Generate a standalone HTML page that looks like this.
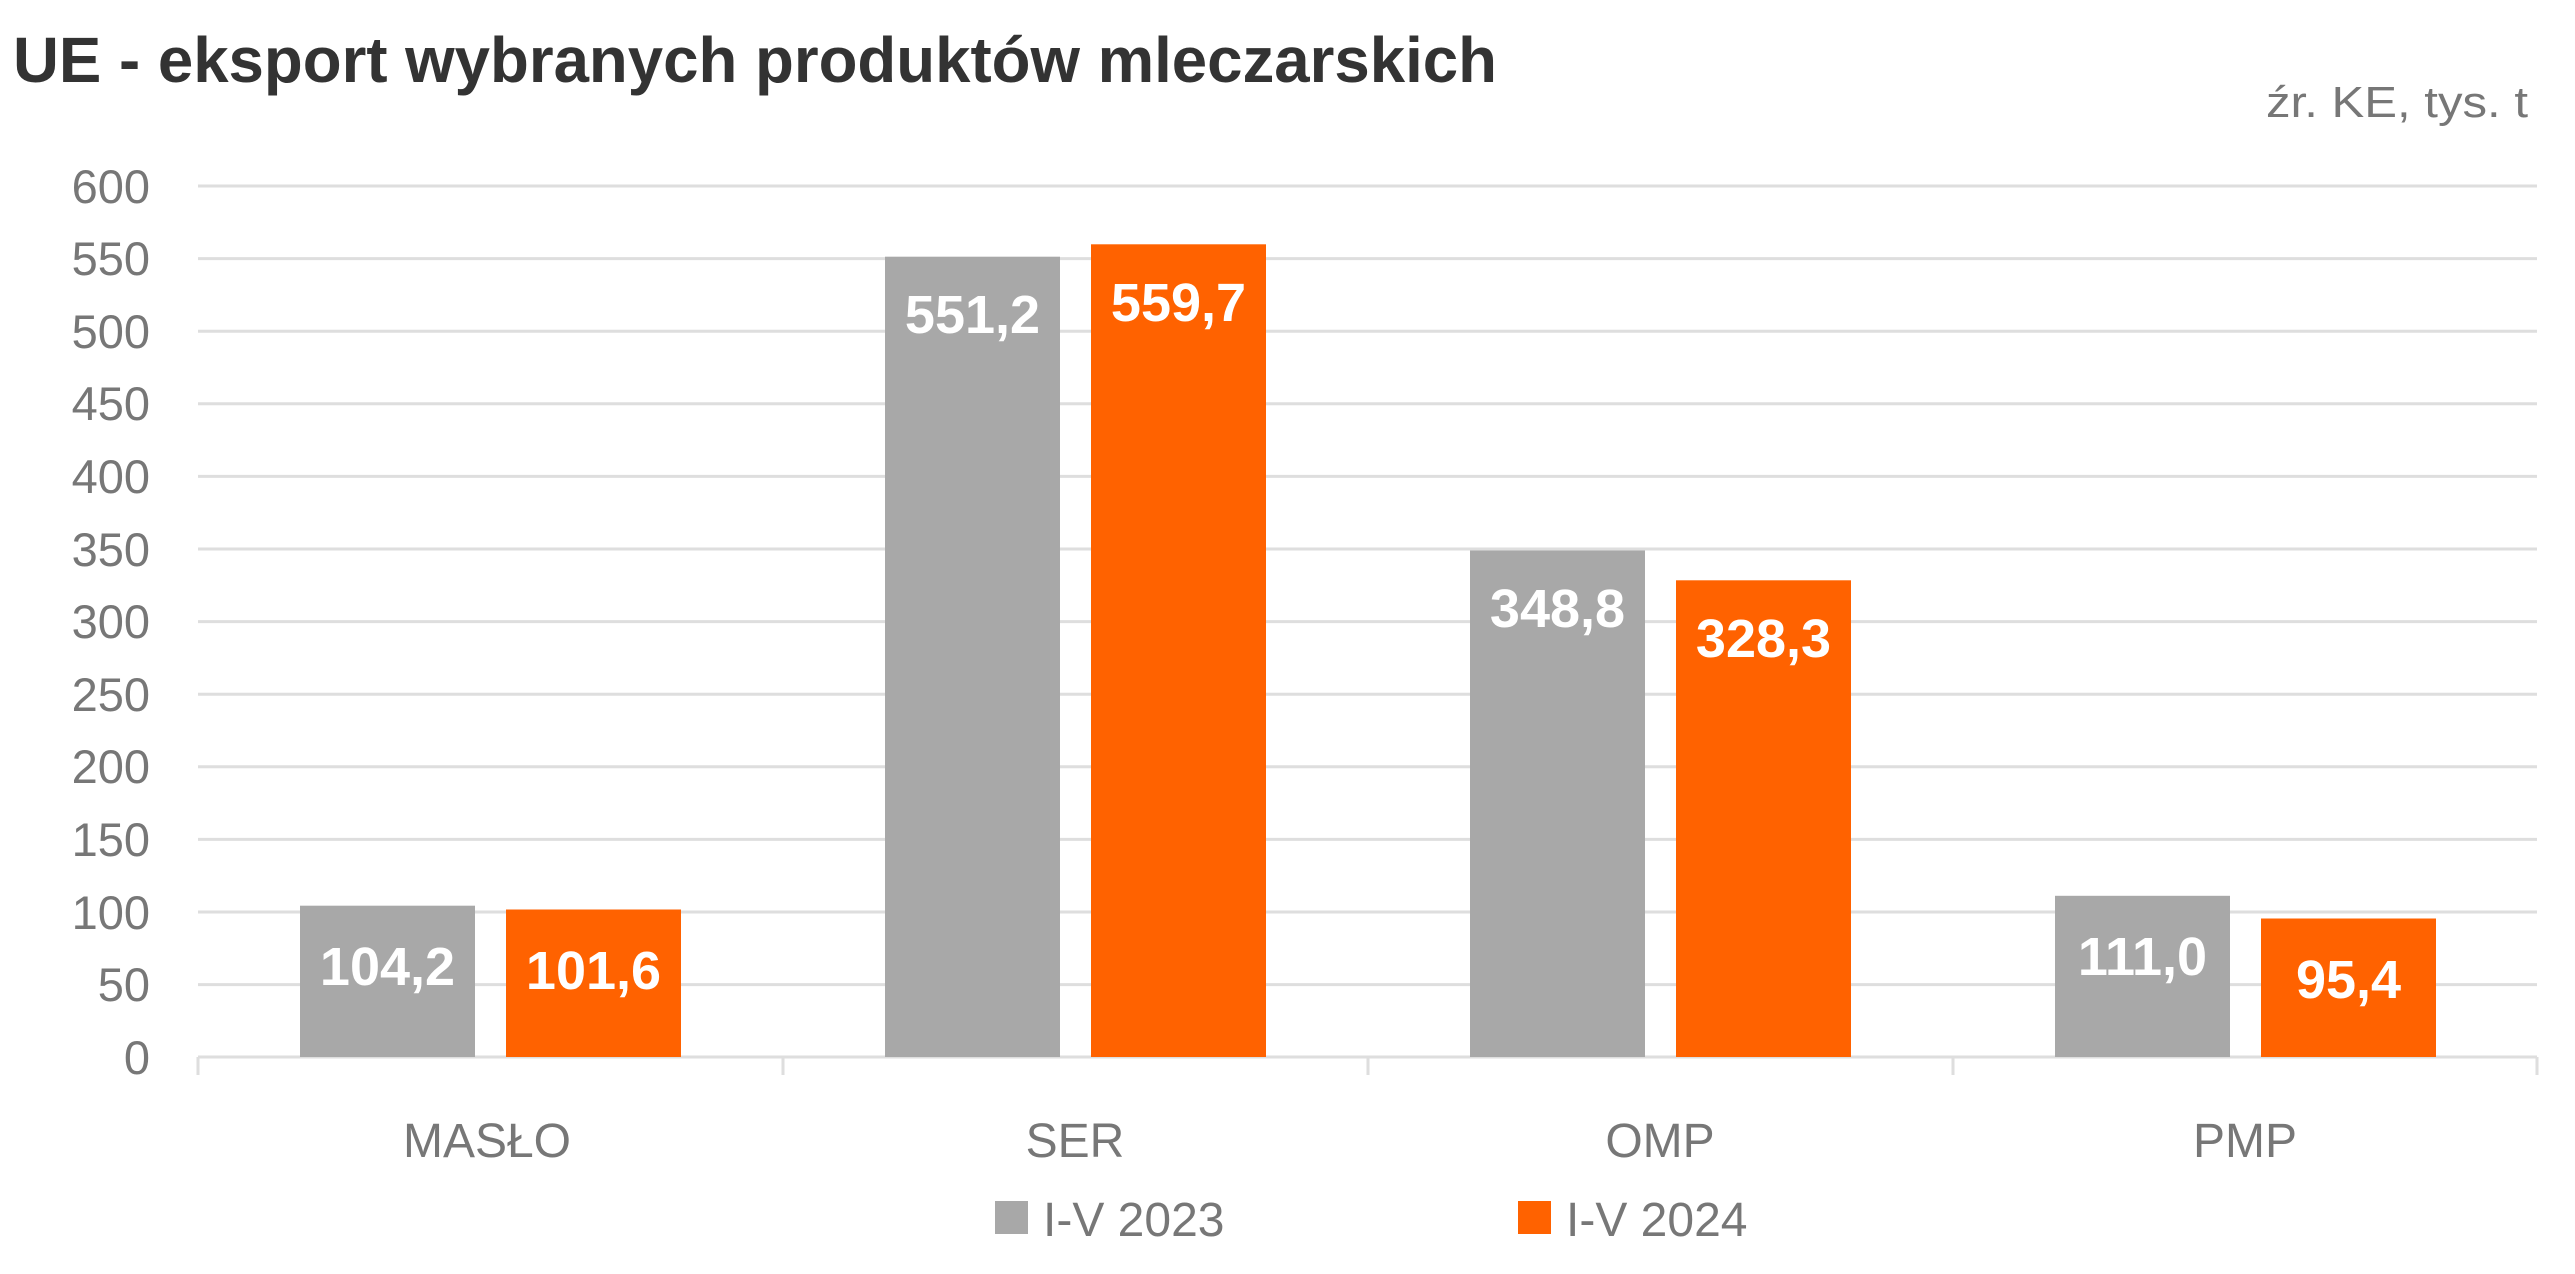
<!DOCTYPE html>
<html><head><meta charset="utf-8"><style>
html,body{margin:0;padding:0;background:#fff}
svg{display:block}
text{font-family:"Liberation Sans",sans-serif}
</style></head><body>
<svg width="2575" height="1274" viewBox="0 0 2575 1274" xmlns="http://www.w3.org/2000/svg">
<text x="13" y="82" font-size="64" font-weight="bold" fill="#333" textLength="1484" lengthAdjust="spacingAndGlyphs">UE - eksport wybranych produktów mleczarskich</text>
<text x="2528" y="117" font-size="44" fill="#777" text-anchor="end" textLength="262" lengthAdjust="spacingAndGlyphs">źr. KE, tys. t</text>
<g stroke="#dedede" stroke-width="3">
<line x1="198" x2="2537" y1="186" y2="186"/>
<line x1="198" x2="2537" y1="258.6" y2="258.6"/>
<line x1="198" x2="2537" y1="331.2" y2="331.2"/>
<line x1="198" x2="2537" y1="403.8" y2="403.8"/>
<line x1="198" x2="2537" y1="476.4" y2="476.4"/>
<line x1="198" x2="2537" y1="549" y2="549"/>
<line x1="198" x2="2537" y1="621.6" y2="621.6"/>
<line x1="198" x2="2537" y1="694.2" y2="694.2"/>
<line x1="198" x2="2537" y1="766.8" y2="766.8"/>
<line x1="198" x2="2537" y1="839.4" y2="839.4"/>
<line x1="198" x2="2537" y1="912" y2="912"/>
<line x1="198" x2="2537" y1="984.6" y2="984.6"/>
<line x1="198" x2="2537" y1="1057" y2="1057"/>
<line x1="198" x2="198" y1="1057" y2="1075"/>
<line x1="783" x2="783" y1="1057" y2="1075"/>
<line x1="1368" x2="1368" y1="1057" y2="1075"/>
<line x1="1953" x2="1953" y1="1057" y2="1075"/>
<line x1="2537" x2="2537" y1="1057" y2="1075"/>
</g>
<g font-size="47" fill="#777" text-anchor="end">
<text x="150" y="203">600</text><text x="150" y="275">550</text><text x="150" y="348">500</text>
<text x="150" y="420">450</text><text x="150" y="493">400</text><text x="150" y="566">350</text>
<text x="150" y="638">300</text><text x="150" y="711">250</text><text x="150" y="783">200</text>
<text x="150" y="856">150</text><text x="150" y="929">100</text><text x="150" y="1001">50</text>
<text x="150" y="1074">0</text>
</g>
<g>
<rect x="300" y="905.7" width="175" height="151.3" fill="#a8a8a8"/>
<rect x="506" y="909.5" width="175" height="147.5" fill="#ff6200"/>
<rect x="885" y="256.7" width="175" height="800.3" fill="#a8a8a8"/>
<rect x="1091" y="244.3" width="175" height="812.7" fill="#ff6200"/>
<rect x="1470" y="550.5" width="175" height="506.5" fill="#a8a8a8"/>
<rect x="1676" y="580.3" width="175" height="476.7" fill="#ff6200"/>
<rect x="2055" y="895.8" width="175" height="161.2" fill="#a8a8a8"/>
<rect x="2261" y="918.5" width="175" height="138.5" fill="#ff6200"/>
</g>
<g font-size="54" font-weight="bold" fill="#fff" text-anchor="middle">
<text x="387.5" y="985">104,2</text><text x="593.5" y="989">101,6</text>
<text x="972.5" y="333">551,2</text><text x="1178.5" y="321">559,7</text>
<text x="1557.5" y="627">348,8</text><text x="1763.5" y="657">328,3</text>
<text x="2142.5" y="975">111,0</text><text x="2348.5" y="998">95,4</text>
</g>
<g font-size="48" fill="#777" text-anchor="middle">
<text x="487" y="1157">MASŁO</text><text x="1075" y="1157">SER</text>
<text x="1660" y="1157">OMP</text><text x="2245" y="1157">PMP</text>
</g>
<rect x="995" y="1201" width="33" height="33" fill="#a8a8a8"/>
<text x="1043" y="1236" font-size="48" fill="#777">I-V 2023</text>
<rect x="1518" y="1201" width="33" height="33" fill="#ff6200"/>
<text x="1566" y="1236" font-size="48" fill="#777">I-V 2024</text>
</svg>
</body></html>
